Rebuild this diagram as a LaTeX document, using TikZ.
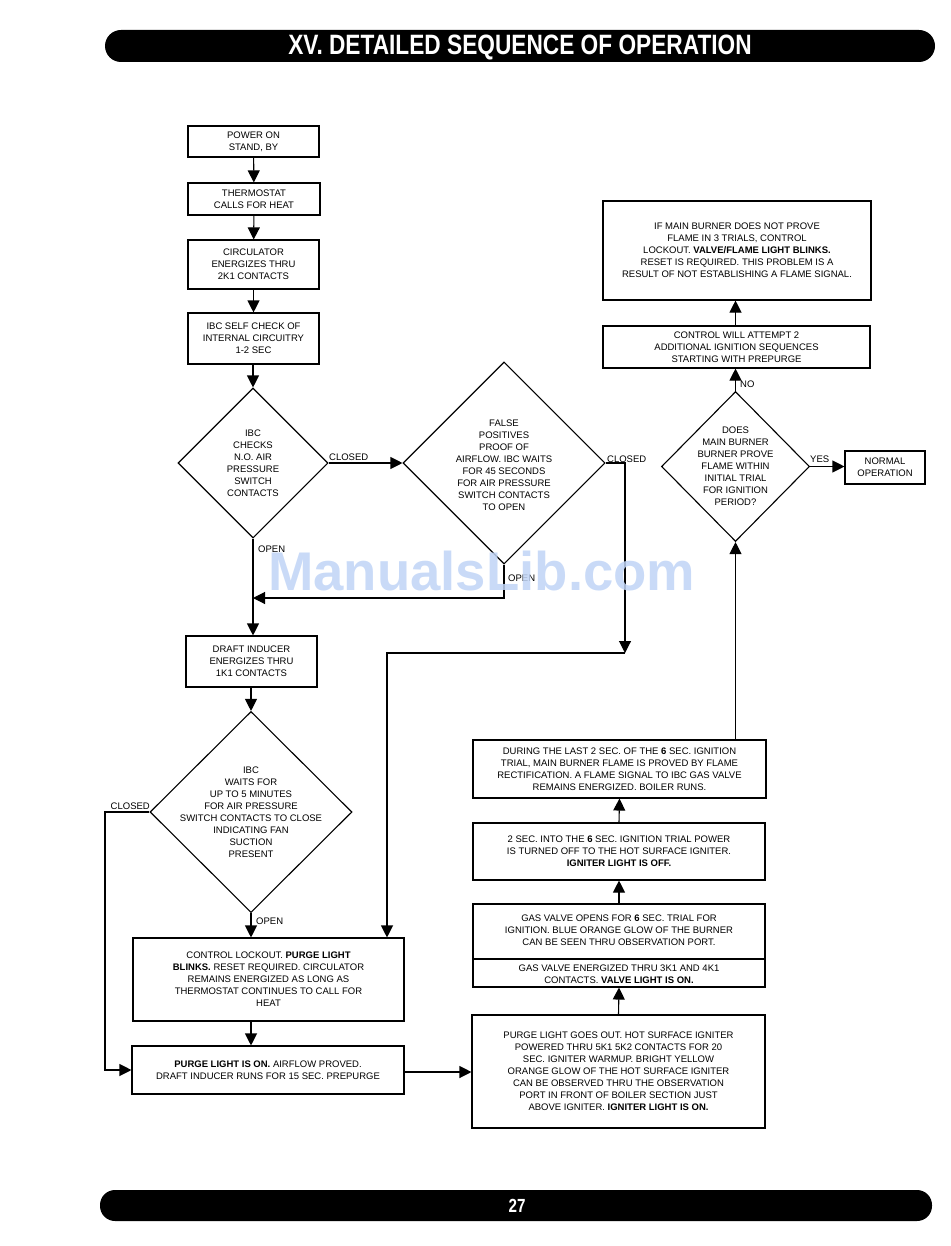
\documentclass[tikz,border=0pt]{standalone}
\usepackage{fontspec}
\setmainfont{Liberation Sans}
\usetikzlibrary{shapes.geometric,arrows.meta}
\newcommand\fs{\fontsize{9.5}{12}\selectfont}
\definecolor{wmblue}{RGB}{192,212,246}
\begin{document}
\begin{tikzpicture}[x=1pt,y=-1pt,
  box/.style={draw, line width=1.1pt, align=center, inner sep=0pt, font=\fs},
  dia/.style={draw, diamond, line width=1.1pt, inner sep=0pt},
  dtext/.style={align=center, inner sep=0pt, font=\fs},
  arr/.style={line width=1.1pt, -{Triangle[length=12pt,width=12pt]}},
  ln/.style={line width=1.1pt},
  lbl/.style={font=\fs, inner sep=0pt}]
\useasboundingbox (0,0) rectangle (950,1246);
% header and footer
\fill[black, rounded corners=16pt] (105,30) rectangle (935,62);
\node[white, font=\fontsize{28}{30}\selectfont\bfseries, xscale=0.81] (title) at (520,47) {XV. DETAILED SEQUENCE OF OPERATION};
\fill[black, rounded corners=15pt] (100,1190) rectangle (932,1221);
\node[white, font=\fontsize{19}{20}\selectfont\bfseries, xscale=0.8] (page) at (517,1206) {27};
% left column
\node[box, minimum width=131, minimum height=31] (b1) at (253.5,141.5) {POWER ON\\STAND, BY};
\node[box, minimum width=132, minimum height=32] (b2) at (254,199) {THERMOSTAT\\CALLS FOR HEAT};
\node[box, minimum width=131, minimum height=49] (b3) at (253.5,264.5) {CIRCULATOR\\ENERGIZES THRU\\2K1 CONTACTS};
\node[box, minimum width=131, minimum height=51] (b4) at (253.5,338.5) {IBC SELF CHECK OF\\INTERNAL CIRCUITRY\\1-2 SEC};
\node[dia, minimum width=150, minimum height=150] (d1) at (253,463) {};
\node[dtext] (d1t) at (d1.center) {IBC\\CHECKS\\N.O. AIR\\PRESSURE\\SWITCH\\CONTACTS};
\node[dia, minimum width=202, minimum height=202] (d2) at (504,463) {};
\node[dtext] (d2t) at (504,465) {FALSE\\POSITIVES\\PROOF OF\\AIRFLOW. IBC WAITS\\FOR 45 SECONDS\\FOR AIR PRESSURE\\SWITCH CONTACTS\\TO OPEN};
\node[box, minimum width=131, minimum height=51] (b7) at (251.5,661.5) {DRAFT INDUCER\\ENERGIZES THRU\\1K1 CONTACTS};
\node[dia, minimum width=202, minimum height=201] (d3) at (251,812) {};
\node[dtext] (d3t) at (d3.center) {IBC\\WAITS FOR\\UP TO 5 MINUTES\\FOR AIR PRESSURE\\SWITCH CONTACTS TO CLOSE\\INDICATING FAN\\SUCTION\\PRESENT};
\node[box, minimum width=271, minimum height=83] (b9) at (268.5,979.5) {CONTROL LOCKOUT. \textbf{PURGE LIGHT}\\\textbf{BLINKS.} RESET REQUIRED. CIRCULATOR\\REMAINS ENERGIZED AS LONG AS\\THERMOSTAT CONTINUES TO CALL FOR\\HEAT};
\node[box, minimum width=272, minimum height=48] (b10) at (268,1070) {\textbf{PURGE LIGHT IS ON.} AIRFLOW PROVED.\\DRAFT INDUCER RUNS FOR 15 SEC. PREPURGE};
% right column
\node[box, minimum width=293, minimum height=113] (b11) at (618.5,1071.5) {PURGE LIGHT GOES OUT. HOT SURFACE IGNITER\\POWERED THRU 5K1 5K2 CONTACTS FOR 20\\SEC. IGNITER WARMUP. BRIGHT YELLOW\\ORANGE GLOW OF THE HOT SURFACE IGNITER\\CAN BE OBSERVED THRU THE OBSERVATION\\PORT IN FRONT OF BOILER SECTION JUST\\ABOVE IGNITER. \textbf{IGNITER LIGHT IS ON.}};
\node[box, minimum width=292, minimum height=83] (b12) at (619,945.5) {};
\draw[ln] (b12.west |- 0,959) -- (b12.east |- 0,959);
\node[dtext] (b12a) at (619,930.5) {GAS VALVE OPENS FOR \textbf{6} SEC. TRIAL FOR\\IGNITION. BLUE ORANGE GLOW OF THE BURNER\\CAN BE SEEN THRU OBSERVATION PORT.};
\node[dtext] (b12b) at (619,974) {GAS VALVE ENERGIZED THRU 3K1 AND 4K1\\CONTACTS. \textbf{VALVE LIGHT IS ON.}};
\node[box, minimum width=292, minimum height=57] (b13) at (619,851.5) {2 SEC. INTO THE \textbf{6} SEC. IGNITION TRIAL POWER\\IS TURNED OFF TO THE HOT SURFACE IGNITER.\\\textbf{IGNITER LIGHT IS OFF.}};
\node[box, minimum width=293, minimum height=58] (b14) at (619.5,769) {DURING THE LAST 2 SEC. OF THE \textbf{6} SEC. IGNITION\\TRIAL, MAIN BURNER FLAME IS PROVED BY FLAME\\RECTIFICATION. A FLAME SIGNAL TO IBC GAS VALVE\\REMAINS ENERGIZED. BOILER RUNS.};
\node[dia, minimum width=148, minimum height=150] (d4) at (735.5,466.5) {};
\node[dtext] (d4t) at (d4.center) {DOES\\MAIN BURNER\\BURNER PROVE\\FLAME WITHIN\\INITIAL TRIAL\\FOR IGNITION\\PERIOD?};
\node[box, minimum width=80, minimum height=33] (b16) at (885,467.5) {NORMAL\\OPERATION};
\node[box, minimum width=267, minimum height=42] (b17) at (736.5,347) {CONTROL WILL ATTEMPT 2\\ADDITIONAL IGNITION SEQUENCES\\STARTING WITH PREPURGE};
\node[box, minimum width=268, minimum height=99] (b18) at (737,250.5) {IF MAIN BURNER DOES NOT PROVE\\FLAME IN 3 TRIALS, CONTROL\\LOCKOUT. \textbf{VALVE/FLAME LIGHT BLINKS.}\\RESET IS REQUIRED. THIS PROBLEM IS A\\RESULT OF NOT ESTABLISHING A FLAME SIGNAL.};
% connectors
\draw[arr] (b1) -- (b2);
\draw[arr] (b2) -- (b3);
\draw[arr] (b3) -- (b4);
\draw[arr] (b4.south -| d1.north) -- (d1.north);
\draw[arr] (d1.east) -- (d2.west);
\node[lbl, anchor=west] (l1) at (329,457) {CLOSED};
\draw[arr] (d1.south) -- (d1.south |- b7.north);
\node[lbl, anchor=west] (l2) at (258,549) {OPEN};
\coordinate (j1) at (253,598);
\draw[arr] (d2.south) |- (j1);
\node[lbl, anchor=west] (l3) at (508,578) {OPEN};
\coordinate (c2) at (625,653);
\draw[arr] (d2.east) -| (c2);
\node[lbl, anchor=west] (l4) at (607,459) {CLOSED};
\coordinate (c3) at (387,653);
\draw[arr] (c2) -- (c3) -- (c3 |- b9.north);
\draw[arr] (b7.south -| d3.north) -- (d3.north);
\coordinate (c4) at (105,812);
\draw[arr] (d3.west) -- (c4) |- (b10.west);
\node[lbl, anchor=east] (l5) at (150,806) {CLOSED};
\draw[arr] (d3.south) -- (d3.south |- b9.north);
\node[lbl, anchor=west] (l6) at (256,921) {OPEN};
\draw[arr] (d3.south |- b9.south) -- (d3.south |- b10.north);
\draw[arr] (b10.east |- 0,1072) -- (b11.west |- 0,1072);
\draw[arr] (b11.north) -- (b12.south);
\draw[arr] (b12.north) -- (b13.south);
\draw[arr] (b13.north) -- (b14.south);
\draw[arr] (d4.south |- b14.north) -- (d4.south);
\draw[arr] (d4.north) -- (d4.north |- b17.south);
\node[lbl, anchor=west] (l7) at (740,384) {NO};
\draw[arr] (d4.east) -- (b16.west |- d4.east);
\node[lbl, anchor=west] (l8) at (810,459) {YES};
\draw[arr] (b17.north -| d4.north) -- (b18.south -| d4.north);
% watermark
\node[text=wmblue, opacity=0.85, font=\fontsize{54.5}{56}\selectfont\bfseries, anchor=base west, inner sep=0pt] (wm) at (268,590) {ManualsLib.com};
\end{tikzpicture}
\end{document}
